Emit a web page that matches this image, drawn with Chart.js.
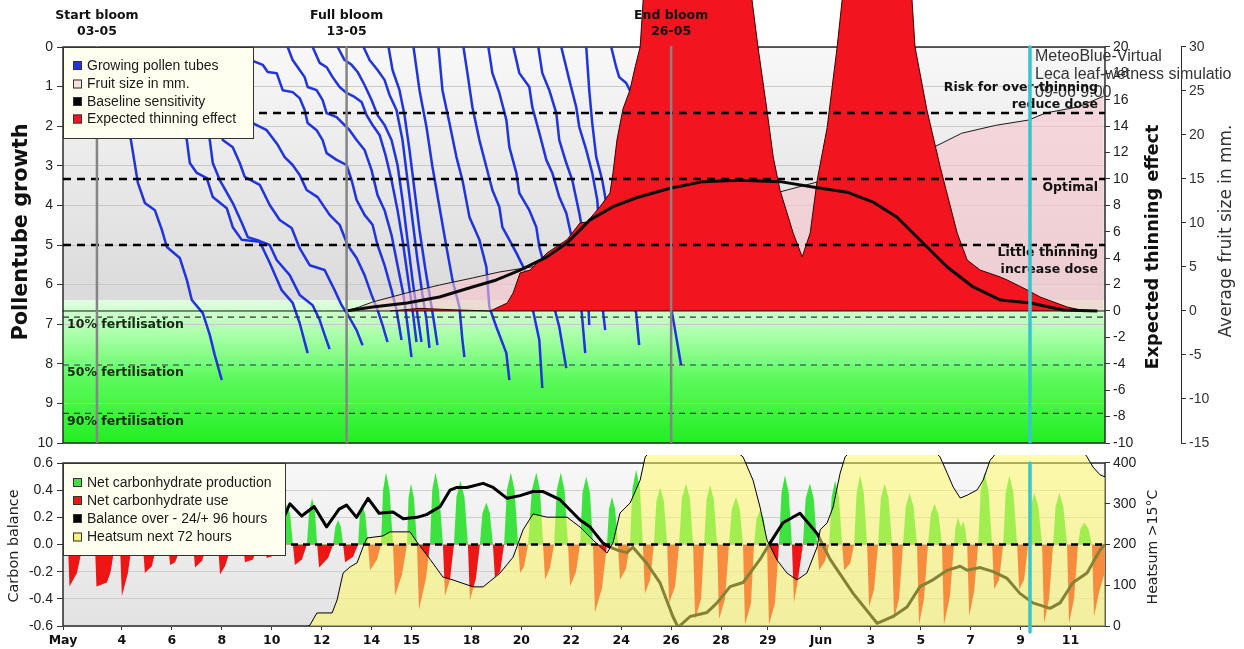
<!DOCTYPE html>
<html>
<head>
<meta charset="utf-8">
<script src="https://cdn.jsdelivr.net/npm/chart.js@4.4.1/dist/chart.umd.min.js"></script>
<style>
  html, body { margin: 0; padding: 0; background: #fff; }
  #top { position: absolute; left: 0; top: 0; }
  #bot { position: absolute; left: 0; top: 455px; }
</style>
</head>
<body>
<canvas id="top" width="1244" height="452"></canvas>
<canvas id="bot" width="1244" height="194"></canvas>
<script>
// ---- data (x = day of May, 32 = 1 June) ----
const xMin = 1.64, xMax = 43.38;
const tickDays   = [1.64, 4, 6, 8, 10, 12, 14, 15.6, 18, 20, 22, 24, 26, 28, 29.87, 32, 34, 36, 38, 40, 42];
const tickLabels = ['May', '4', '6', '8', '10', '12', '14', '15', '18', '20', '22', '24', '26', '28', '29', 'Jun', '3', '5', '7', '9', '11'];

const growthTicks   = [0, 1, 2, 3, 4, 5, 6, 7, 8, 9, 10];
const thinningTicks = [-10, -8, -6, -4, -2, 0, 2, 4, 6, 8, 10, 12, 14, 16, 18, 20];
const fruitTicks    = [-15, -10, -5, 0, 5, 10, 15, 20, 25, 30];
const carbonTicks   = [-0.6, -0.4, -0.2, 0, 0.2, 0.4, 0.6];
const heatTicks     = [0, 100, 200, 300, 400];

const bloomDays  = [3, 13, 26];
const bloomNames = ['Start bloom', 'Full bloom', 'End bloom'];
const bloomDates = ['03-05', '13-05', '26-05'];
const nowDay = 40.375;
const nowText = ['MeteoBlue-Virtual', 'Leca leaf-wetness simulatio', '09-06 9:00'];

const thinningLevels = [15, 10, 5];
const fertilisationLevels = [6.82, 8.03, 9.25];
const fertilisationNames = ['10% fertilisation', '50% fertilisation', '90% fertilisation'];

const topLegend = ['Growing pollen tubes', 'Fruit size in mm.', 'Baseline sensitivity', 'Expected thinning effect'];
const botLegend = ['Net carbonhydrate production', 'Net carbonhydrate use', 'Balance over - 24/+ 96 hours', 'Heatsum next 72 hours'];

// pollen tube growth per tube: [day, growth]
const pollenTubes = [
  [[3.0,0],[3.52,1.09],[3.92,1.59],[4.36,2.35],[4.64,3.43],[4.92,3.94],[5.32,4.12],[5.6,4.62],[5.8,5.05],[6.32,5.33],[6.6,5.88],[6.8,6.39],[7.24,6.72],[7.52,7.27],[7.72,7.78],[8.0,8.41]],
  [[5.12,0],[5.52,0.83],[6.0,1.34],[6.32,1.72],[6.6,2.35],[6.72,2.93],[7.0,3.18],[7.4,3.31],[7.64,3.79],[8.2,4.07],[8.44,4.55],[8.8,4.87],[9.52,4.92],[9.92,5.45],[10.4,6.14],[10.84,6.46],[11.12,6.97],[11.44,7.73]],
  [[6.12,0],[6.52,0.71],[6.92,1.21],[7.32,1.72],[7.52,2.35],[7.64,2.93],[7.92,3.36],[8.44,3.94],[8.8,4.44],[9.04,4.8],[9.52,4.9],[9.92,5.0],[10.2,5.38],[10.72,5.76],[11.12,6.26],[11.64,6.52],[11.92,6.89],[12.12,7.27],[12.32,7.63]],
  [[7.12,0],[7.52,0.83],[7.84,1.59],[8.04,2.35],[8.44,2.53],[8.72,2.93],[8.92,3.28],[9.52,3.48],[9.92,3.99],[10.32,4.37],[10.8,4.57],[11.12,5.08],[11.52,5.51],[12.12,5.63],[12.52,6.14],[12.8,6.52],[13.12,6.84],[13.4,7.15],[13.64,7.53]],
  [[8.24,0],[8.64,0.83],[8.92,1.46],[9.24,1.92],[9.8,2.1],[10.24,2.47],[10.52,2.78],[10.84,2.98],[11.12,3.23],[11.4,3.61],[11.84,3.79],[12.32,4.24],[12.72,4.49],[13.04,5.0],[13.4,5.33],[13.72,5.76],[14.0,6.26],[14.24,6.64],[14.44,7.02],[14.64,7.45]],
  [[8.92,0],[9.24,0.35],[9.64,0.45],[9.84,0.63],[10.2,0.66],[10.44,1.09],[10.84,1.14],[11.12,1.29],[11.32,1.59],[11.44,1.92],[11.8,2.1],[12.04,2.35],[12.2,2.68],[12.6,2.85],[13.0,2.98],[13.2,3.36],[13.4,3.86],[13.72,4.24],[14.04,4.49],[14.24,5.0],[14.52,5.51],[14.8,6.14],[15.0,6.64],[15.2,7.4]],
  [[10.64,0],[10.84,0.33],[11.12,0.58],[11.32,0.76],[11.44,1.01],[11.8,1.09],[12.04,1.34],[12.2,1.67],[12.6,1.77],[12.84,1.92],[13.12,2.1],[13.4,2.35],[13.72,2.6],[14.0,3.11],[14.24,3.74],[14.52,4.12],[14.8,4.75],[15.04,5.51],[15.28,6.26],[15.44,7.02],[15.6,7.83]],
  [[11.64,0],[11.92,0.4],[12.2,0.51],[12.44,0.76],[12.72,1.01],[13.0,1.16],[13.32,1.26],[13.6,1.39],[13.8,1.72],[14.04,1.97],[14.32,2.22],[14.56,2.73],[14.8,3.36],[15.04,4.12],[15.24,4.87],[15.44,5.76],[15.64,6.64],[15.8,7.45]],
  [[12.64,0],[12.92,0.33],[13.2,0.45],[13.44,0.63],[13.72,0.96],[14.0,1.34],[14.24,1.72],[14.52,1.97],[14.8,2.35],[15.04,2.98],[15.24,3.86],[15.44,4.87],[15.64,5.88],[15.84,6.77],[16.0,7.45]],
  [[13.68,0],[13.92,0.33],[14.24,0.58],[14.52,0.83],[14.72,1.21],[15.0,1.59],[15.24,2.35],[15.44,3.36],[15.64,4.37],[15.84,5.38],[16.04,6.26],[16.2,6.89],[16.32,7.6]],
  [[14.68,0],[14.84,0.58],[15.12,1.09],[15.32,1.72],[15.52,2.6],[15.72,3.61],[15.92,4.62],[16.16,5.63],[16.36,6.39],[16.52,7.02],[16.64,7.53]],
  [[15.68,0],[15.92,1.09],[16.2,2.02],[16.44,3.03],[16.72,4.04],[17.0,5.05],[17.24,5.88],[17.52,6.57],[17.64,7.4],[17.72,7.83]],
  [[16.68,0],[16.84,1.09],[17.12,1.92],[17.4,2.78],[17.64,3.36],[17.92,4.29],[18.32,4.87],[18.6,5.56],[18.72,6.57],[19.0,7.07],[19.4,7.73],[19.52,8.41]],
  [[17.68,0],[17.84,0.66],[18.04,1.52],[18.32,2.35],[18.6,3.03],[18.84,3.61],[19.12,4.04],[19.24,4.55],[19.52,4.87],[19.8,5.2],[20.2,5.71],[20.44,6.57],[20.72,7.4],[20.84,8.61]],
  [[18.68,0],[18.84,0.66],[19.12,1.16],[19.4,1.84],[19.52,2.53],[19.8,3.18],[19.92,3.69],[20.32,4.12],[20.6,4.55],[20.72,5.05],[21.0,5.71],[21.24,6.39],[21.52,7.07],[21.8,8.11]],
  [[19.68,0],[19.92,0.66],[20.32,1.01],[20.44,1.52],[20.72,2.17],[21.0,2.85],[21.24,3.18],[21.52,3.79],[21.8,4.19],[22.04,4.87],[22.24,5.71],[22.4,6.57],[22.56,7.73]],
  [[20.68,0],[20.84,0.66],[21.12,1.09],[21.4,1.67],[21.52,2.35],[21.8,2.93],[22.04,3.36],[22.32,4.19],[22.52,4.87],[22.64,5.71],[22.72,7.02]],
  [[21.6,0],[21.92,0.83],[22.2,1.52],[22.32,2.02],[22.6,2.6],[22.84,3.18],[23.04,3.86],[23.16,4.87],[23.24,5.88],[23.28,6.72],[23.36,7.15]],
  [[22.6,0],[22.72,1.09],[22.84,1.92],[23.0,2.78],[23.24,3.36],[23.52,4.37],[23.92,5.38],[24.32,6.14],[24.6,6.72],[24.72,7.53]],
  [[23.6,0],[23.8,0.51],[23.92,0.76],[24.2,0.91],[24.4,1.16],[24.92,2.6],[25.32,4.37],[25.72,5.88],[26.04,6.72],[26.4,8.03]]
];

// fruit size in mm
const fruitSize = [[12.98,0],[13.5,0.45],[14.04,1.02],[15.4,2.05],[16.72,2.95],[18.04,3.75],[19.12,4.43],[20.4,5.0],[23.12,6.9],[27.12,10.9],[30.32,13.5],[31.64,14.5],[33.92,16.25],[36.44,18.5],[37.64,20.2],[39.0,21.1],[40.32,21.7],[41.0,22.5],[42.32,23.2],[43.32,24.4]];

// baseline sensitivity
const baseline = [[12.98,0],[14.04,0.3],[15.42,0.6],[16.72,1.06],[18.04,1.82],[19.0,2.35],[19.95,3.1],[21.03,4.1],[21.83,5.15],[22.75,6.9],[23.67,7.9],[24.64,8.6],[25.96,9.3],[27.28,9.8],[28.76,9.9],[30.36,9.8],[31.68,9.4],[33.05,9.0],[34.09,8.25],[35.05,7.1],[36.09,5.15],[37.06,3.33],[38.1,1.82],[39.2,0.83],[40.4,0.6],[41.7,0.08],[43.07,0]];

// expected thinning effect
const thinning = [[14.74,0],[15.94,0.2],[17.14,0.1],[18.75,0],[19.43,0.6],[19.67,1.36],[19.95,2.88],[20.35,3.1],[21.03,4.4],[21.83,5.4],[22.35,6.67],[22.63,6.74],[23.15,7.9],[23.55,8.94],[23.67,10.45],[23.83,12.95],[24.07,15.3],[24.35,16.74],[24.56,18.5],[24.76,20.0],[24.88,23.56],[25.36,28],[27.16,31],[28.96,27],[29.24,23.56],[29.48,20.0],[29.84,15.2],[30.09,11.67],[30.36,9.17],[30.89,5.9],[31.25,4.1],[31.57,5.9],[31.85,9.9],[32.25,13.9],[32.65,20.0],[32.85,23.56],[33.37,28],[34.37,30],[35.37,27.3],[35.65,23.56],[35.77,20.0],[36.25,15.2],[36.78,10.9],[37.46,5.9],[37.86,3.86],[38.38,3.1],[39.18,2.58],[39.46,2.35],[40.26,1.6],[40.78,1.06],[41.87,0.3],[42.4,0.08],[43.08,0]];

// net carbonhydrate balance
const carbon = [
  [1.64,0],
  [1.84,0],[1.9,-0.31],[2.2,-0.21],[2.44,0],[2.68,0.2],
  [2.92,0],[2.98,-0.31],[3.4,-0.28],[3.55,-0.2],[3.72,0],[3.82,0.15],
  [3.92,0],[4.0,-0.38],[4.24,-0.21],[4.4,0],[4.62,0.2],
  [4.84,0],[4.92,-0.21],[5.2,-0.16],[5.4,0],[5.62,0.2],
  [5.85,0],[5.93,-0.15],[6.13,-0.13],[6.41,0],[6.63,0.25],
  [6.85,0],[6.93,-0.17],[7.21,-0.12],[7.41,0],[7.63,0.2],
  [7.85,0],[7.93,-0.22],[8.13,-0.16],[8.41,0],[8.63,0.25],
  [8.85,0],[8.93,-0.13],[9.25,-0.11],[9.45,0],[9.6,0.32],
  [9.73,0],[9.8,-0.1],[10.13,-0.08],[10.41,0],[10.5,0.22],[10.61,0.3],[10.74,0.22],
  [10.85,0],[10.93,-0.15],[11.21,-0.11],[11.41,0],[11.5,0.25],[11.62,0.34],[11.73,0.25],
  [11.82,0],[11.9,-0.17],[12.26,-0.1],[12.46,0],[12.55,0.13],[12.66,0.18],[12.77,0.13],
  [12.86,0],[12.94,-0.13],[13.26,-0.09],[13.46,0],[13.53,0.22],[13.62,0.3],[13.75,0.22],
  [13.86,0],[13.94,-0.19],[14.22,-0.11],[14.38,0],[14.46,0.4],[14.58,0.53],[14.72,0.4],
  [14.86,0],[14.94,-0.38],[15.22,-0.22],[15.42,0],[15.48,0.34],[15.58,0.45],[15.7,0.34],
  [15.82,0],[15.9,-0.48],[16.18,-0.25],[16.34,0],[16.43,0.4],[16.56,0.53],[16.7,0.4],
  [16.86,0],[16.94,-0.38],[17.14,-0.26],[17.3,0],[17.4,0.35],[17.56,0.47],[17.72,0.35],
  [17.86,0],[17.94,-0.41],[18.18,-0.25],[18.34,0],[18.44,0.23],[18.6,0.31],[18.74,0.23],
  [18.86,0],[18.94,-0.24],[19.15,-0.2],[19.31,0],[19.42,0.4],[19.58,0.53],[19.73,0.4],
  [19.87,0],[19.95,-0.21],[20.11,-0.16],[20.27,0],[20.42,0.4],[20.6,0.53],[20.75,0.4],
  [20.87,0],[20.95,-0.26],[21.15,-0.17],[21.31,0],[21.42,0.4],[21.58,0.53],[21.73,0.4],
  [21.87,0],[21.95,-0.31],[22.19,-0.2],[22.35,0],[22.45,0.38],[22.6,0.5],[22.75,0.38],
  [22.87,0],[22.95,-0.5],[23.23,-0.32],[23.43,0],[23.51,0.26],[23.63,0.35],[23.76,0.26],
  [23.87,0],[23.95,-0.26],[24.19,-0.18],[24.35,0],[24.45,0.41],[24.6,0.55],[24.75,0.41],
  [24.87,0],[24.95,-0.36],[25.16,-0.26],[25.31,0],[25.41,0.32],[25.56,0.42],[25.71,0.32],
  [25.84,0],[25.92,-0.43],[26.16,-0.31],[26.32,0],[26.43,0.34],[26.6,0.45],[26.75,0.34],
  [26.88,0],[26.96,-0.55],[27.2,-0.4],[27.32,0],[27.42,0.33],[27.56,0.44],[27.71,0.33],
  [27.84,0],[27.92,-0.55],[28.16,-0.4],[28.32,0],[28.43,0.26],[28.6,0.35],[28.75,0.26],
  [28.88,0],[28.96,-0.59],[29.2,-0.43],[29.32,0],[29.42,0.19],[29.56,0.25],[29.71,0.19],
  [29.84,0],[29.92,-0.59],[30.16,-0.43],[30.32,0],[30.42,0.38],[30.56,0.51],[30.71,0.38],
  [30.84,0],[30.92,-0.43],[31.08,-0.26],[31.28,0],[31.39,0.34],[31.56,0.45],[31.71,0.34],
  [31.85,0],[31.93,-0.19],[32.17,-0.12],[32.33,0],[32.43,0.35],[32.57,0.47],[32.72,0.35],
  [32.85,0],[32.93,-0.19],[33.17,-0.14],[33.33,0],[33.43,0.38],[33.57,0.51],[33.72,0.38],
  [33.85,0],[33.93,-0.46],[34.13,-0.33],[34.29,0],[34.4,0.34],[34.55,0.45],[34.71,0.34],
  [34.85,0],[34.93,-0.55],[35.13,-0.4],[35.29,0],[35.4,0.28],[35.55,0.38],[35.71,0.28],
  [35.85,0],[35.93,-0.59],[36.13,-0.4],[36.29,0],[36.4,0.22],[36.55,0.3],[36.71,0.22],
  [36.85,0],[36.93,-0.59],[37.17,-0.38],[37.33,0],[37.4,0.14],[37.5,0.2],[37.6,0.13],[37.7,0.17],[37.78,0.12],
  [37.86,0],[37.94,-0.53],[38.14,-0.34],[38.3,0],[38.4,0.4],[38.55,0.53],[38.71,0.4],
  [38.86,0],[38.94,-0.33],[39.14,-0.26],[39.3,0],[39.4,0.38],[39.55,0.51],[39.71,0.38],
  [39.86,0],[39.94,-0.33],[40.14,-0.26],[40.3,0],[40.4,0.28],[40.55,0.38],[40.71,0.28],
  [40.86,0],[40.94,-0.58],[41.14,-0.4],[41.3,0],[41.4,0.28],[41.55,0.38],[41.71,0.28],
  [41.86,0],[41.94,-0.58],[42.14,-0.4],[42.3,0],[42.4,0.12],[42.55,0.16],[42.71,0.12],
  [42.86,0],[42.94,-0.53],[43.14,-0.35],[43.38,-0.2]
];

// balance over -24/+96 hours
const balance = [[10.3,0.12],[10.73,0.3],[11.2,0.21],[11.7,0.28],[12.2,0.13],[12.7,0.26],[13.0,0.29],[13.4,0.2],[13.86,0.34],[14.3,0.23],[14.86,0.24],[15.27,0.19],[15.82,0.2],[16.2,0.22],[16.75,0.28],[17.14,0.4],[17.42,0.42],[17.82,0.42],[18.47,0.45],[18.87,0.42],[19.43,0.34],[19.95,0.36],[20.47,0.39],[20.87,0.39],[21.55,0.33],[22.35,0.18],[22.75,0.13],[23.27,0.01],[23.55,-0.02],[23.83,-0.04],[24.23,-0.06],[24.47,-0.02],[25.03,-0.14],[25.55,-0.28],[26.07,-0.53],[26.28,-0.61],[26.76,-0.53],[27.44,-0.5],[27.84,-0.43],[28.36,-0.31],[28.88,-0.28],[29.56,-0.11],[29.96,0.01],[30.48,0.16],[31.16,0.23],[31.85,0.08],[32.37,-0.11],[33.29,-0.36],[34.25,-0.58],[34.89,-0.53],[35.45,-0.46],[35.97,-0.31],[36.49,-0.26],[37.06,-0.19],[37.58,-0.16],[37.86,-0.19],[38.38,-0.17],[38.9,-0.2],[39.46,-0.25],[39.97,-0.36],[40.49,-0.43],[41.18,-0.47],[41.58,-0.43],[42.1,-0.28],[42.66,-0.21],[43.18,-0.04],[43.38,0]];

// heatsum > 15C, next 72 hours
const heatsum = [[11.45,0],[11.53,2],[11.81,32],[12.42,32],[12.62,64],[12.86,130],[13.14,145],[13.42,155],[13.66,194],[13.82,216],[14.46,221],[14.74,231],[15.54,231],[15.82,206],[16.34,164],[16.86,120],[17.26,113],[18.07,96],[18.47,96],[19.15,130],[19.67,169],[20.07,236],[20.47,275],[21.03,267],[21.83,267],[22.35,243],[22.87,211],[23.43,179],[23.67,204],[23.95,277],[24.36,302],[24.76,358],[24.96,415],[25.36,440],[28.36,440],[28.88,415],[29.28,358],[29.56,292],[29.84,211],[30.24,162],[30.64,130],[31.04,113],[31.44,130],[31.85,194],[31.97,236],[32.25,253],[32.49,292],[32.77,375],[32.97,415],[33.37,440],[36.37,440],[36.77,415],[37.06,375],[37.3,341],[37.58,314],[37.86,321],[38.26,334],[38.5,358],[38.78,407],[38.9,415],[39.18,440],[42.38,440],[42.66,415],[42.9,390],[43.18,371],[43.38,366]];

// ---- styling ----
const SANS = '"Liberation Sans", Arial, sans-serif';
const WIDE = '"DejaVu Sans", Verdana, sans-serif';
const BLUE = '#1f33e0', RED = '#f2141e', CYAN = '#35c6cf';

function lineDs(data, axis, color, width, extra) {
  return Object.assign({
    data, yAxisID: axis, borderColor: color, borderWidth: width,
    pointRadius: 0, fill: false, tension: 0, borderJoinStyle: 'round'
  }, extra || {});
}

function fixAxis(width) {
  return s => { s.width = width; s.paddingTop = 0; s.paddingBottom = 0; };
}

function setTicks(values) {
  return s => { s.ticks = values.map(v => ({ value: v })); };
}

const tickFont = { family: SANS, size: 14 };

function legendBox(ctx, x, y, w, h, labels, colors, rows) {
  ctx.save();
  ctx.fillStyle = '#fffff0';
  ctx.fillRect(x, y, w, h);
  ctx.strokeStyle = '#333';
  ctx.lineWidth = 1;
  ctx.strokeRect(x + 0.5, y + 0.5, w, h);
  ctx.font = '14px ' + SANS;
  ctx.textBaseline = 'middle';
  labels.forEach((label, i) => {
    const cy = rows[i];
    ctx.fillStyle = colors[i];
    ctx.fillRect(x + 10, cy - 4.5, 9, 9);
    ctx.strokeStyle = '#333';
    ctx.strokeRect(x + 10.5, cy - 4, 8, 8);
    ctx.fillStyle = '#1a1a1a';
    ctx.fillText(label, x + 24, cy + 0.5);
  });
  ctx.restore();
}

function vTitle(ctx, text, cx, cy, font, len, color) {
  ctx.save();
  ctx.font = font;
  const w = ctx.measureText(text).width;
  ctx.translate(cx, cy);
  ctx.rotate(-Math.PI / 2);
  ctx.scale(len / w, 1);
  ctx.fillStyle = color;
  ctx.textAlign = 'center';
  ctx.textBaseline = 'middle';
  ctx.fillText(text, 0, 0);
  ctx.restore();
}

// ---- top chart ----
const topSets = [];
pollenTubes.forEach(t => topSets.push(lineDs(t, 'yL', BLUE, 2.5, { order: 60 })));
topSets.push(lineDs(fruitSize, 'yF', '#1a1a1a', 1, { fill: 'origin', backgroundColor: 'rgba(249,196,204,0.6)', order: 50 }));
topSets.push(lineDs(thinning, 'yT', '#3a0000', 1, { fill: 'origin', backgroundColor: RED, order: 40 }));
topSets.push(lineDs(baseline, 'yT', '#0a0a0a', 3, { order: 30 }));
topSets.push(lineDs([[xMin, 0], [xMax, 0]], 'yT', '#111', 1, { order: 25 }));
thinningLevels.forEach(v => topSets.push(lineDs([[xMin, v], [xMax, v]], 'yT', '#000', 2.5, { borderDash: [8, 6], order: 20 })));
fertilisationLevels.forEach(v => topSets.push(lineDs([[xMin, v], [xMax, v]], 'yL', '#333', 1.2, { borderDash: [6, 5], order: 20 })));
bloomDays.forEach(d => topSets.push(lineDs([[d, 0], [d, 10]], 'yL', '#858585', 2.5, { order: 10 })));
topSets.push(lineDs([[nowDay, 0], [nowDay, 10]], 'yL', CYAN, 3.5, { order: 0 }));
const cyanTop = topSets.length - 1;

const topDecor = {
  id: 'topDecor',
  beforeDraw(chart) {
    const { ctx, chartArea: a, scales: { yL } } = chart;
    const t = yL.getPixelForValue(0), m = yL.getPixelForValue(6.4), b = yL.getPixelForValue(10);
    ctx.save();
    let g = ctx.createLinearGradient(0, t, 0, m);
    g.addColorStop(0, '#f8f8f8');
    g.addColorStop(1, '#dadada');
    ctx.fillStyle = g;
    ctx.fillRect(a.left, t, a.right - a.left, m - t);
    g = ctx.createLinearGradient(0, m, 0, b);
    g.addColorStop(0, '#e0ffe0');
    g.addColorStop(0.25, '#a8ffa8');
    g.addColorStop(0.55, '#5cfa5c');
    g.addColorStop(1, '#22ee22');
    ctx.fillStyle = g;
    ctx.fillRect(a.left, m, a.right - a.left, b - m);
    ctx.restore();
  },
  beforeDatasetsDraw(chart) {
    const { ctx, chartArea: a, scales: { yL, yF } } = chart;
    const t = yL.getPixelForValue(0), b = yL.getPixelForValue(10);
    ctx.save();
    ctx.strokeStyle = '#2b2b2b';
    ctx.lineWidth = 1.5;
    ctx.strokeRect(a.left, t, a.right - a.left, b - t);
    ctx.lineWidth = 1;
    ctx.beginPath();
    ctx.moveTo(yF.left + 0.5, t);
    ctx.lineTo(yF.left + 0.5, b);
    ctx.stroke();
    ctx.restore();
  },
  beforeDatasetDraw(chart, args) {
    if (args.index !== cyanTop) return;
    const { ctx, chartArea: a, scales: { x, yL, yT } } = chart;
    ctx.save();
    // simulation stamp
    ctx.font = '16px ' + SANS;
    ctx.fillStyle = '#333';
    ctx.textBaseline = 'middle';
    ctx.textAlign = 'left';
    const nx = x.getPixelForValue(nowDay) + 5;
    nowText.forEach((s, i) => ctx.fillText(s, nx, 57 + i * 18));
    // threshold labels
    ctx.font = 'bold 12.5px ' + WIDE;
    ctx.fillStyle = '#111';
    ctx.textAlign = 'right';
    const rx = a.right - 7;
    ctx.fillText('Risk for over-thinning', rx, yT.getPixelForValue(thinningLevels[0]) - 25);
    ctx.fillText('reduce dose', rx, yT.getPixelForValue(thinningLevels[0]) - 8);
    ctx.fillText('Optimal', rx, yT.getPixelForValue(thinningLevels[1]) + 9);
    ctx.fillText('Little thinning', rx, yT.getPixelForValue(thinningLevels[2]) + 8);
    ctx.fillText('increase dose', rx, yT.getPixelForValue(thinningLevels[2]) + 25);
    // fertilisation labels
    ctx.textAlign = 'left';
    ctx.fillStyle = '#122812';
    fertilisationLevels.forEach((v, i) => ctx.fillText(fertilisationNames[i], a.left + 4, yL.getPixelForValue(v) + 8));
    ctx.restore();
  },
  afterDraw(chart) {
    const { ctx, scales: { x } } = chart;
    legendBox(ctx, 63, 47, 190, 91, topLegend, [BLUE, '#f7dede', '#000', RED], [65.5, 84, 101.5, 119]);
    ctx.save();
    ctx.font = 'bold 12.5px ' + WIDE;
    ctx.fillStyle = '#111';
    ctx.textAlign = 'center';
    ctx.textBaseline = 'middle';
    bloomDays.forEach((d, i) => {
      const px = x.getPixelForValue(d);
      ctx.fillText(bloomNames[i], px, 16);
      ctx.fillText(bloomDates[i], px, 32);
    });
    ctx.restore();
    vTitle(ctx, 'Pollentube growth', 22, 232, 'bold 21px ' + WIDE, 217, '#111');
    vTitle(ctx, 'Expected thinning effect', 1153, 247, 'bold 17.5px ' + WIDE, 245, '#111');
    vTitle(ctx, 'Average fruit size in mm.', 1227, 231, '17px ' + WIDE, 213, '#333');
  }
};

new Chart(document.getElementById('top'), {
  type: 'line',
  data: { datasets: topSets },
  options: {
    responsive: false,
    animation: false,
    events: [],
    layout: { padding: { left: 0, right: 0, top: 0, bottom: 9 } },
    plugins: { legend: { display: false }, tooltip: { enabled: false } },
    scales: {
      x: { type: 'linear', min: xMin, max: xMax, display: false },
      yL: {
        type: 'linear', position: 'left', reverse: true, min: -1.187, max: 10,
        afterBuildTicks: setTicks(growthTicks), afterFit: fixAxis(63),
        grid: { color: '#c9c9c9', lineWidth: 1, tickColor: '#333', tickLength: 6 },
        border: { display: false },
        ticks: { color: '#222', font: tickFont, padding: 4 }
      },
      yT: {
        type: 'linear', position: 'right', min: -10, max: 23.56,
        afterBuildTicks: setTicks(thinningTicks), afterFit: fixAxis(76),
        grid: { drawOnChartArea: false, tickColor: '#333', tickLength: 5 },
        border: { display: false },
        ticks: { color: '#222', font: tickFont, padding: 3 }
      },
      yF: {
        type: 'linear', position: 'right', min: -15, max: 35.34,
        afterBuildTicks: setTicks(fruitTicks), afterFit: fixAxis(63),
        grid: { drawOnChartArea: false, tickColor: '#333', tickLength: 5 },
        border: { display: false },
        ticks: { color: '#333', font: tickFont, padding: 3 }
      }
    }
  },
  plugins: [topDecor]
});

// ---- bottom chart ----
const botSets = [
  lineDs(carbon, 'yC', 'rgba(0,0,0,0)', 0, { fill: { target: 'origin', above: '#3ee23e', below: '#ee1515' }, order: 40 }),
  lineDs(balance, 'yC', '#000', 3, { order: 30 }),
  lineDs(heatsum, 'yH', '#000', 1, { fill: 'origin', backgroundColor: 'rgba(255,250,100,0.52)', order: 20 }),
  lineDs([[xMin, 0], [xMax, 0]], 'yC', '#000', 2.5, { borderDash: [7, 5], order: 10 }),
  lineDs([[nowDay, 0.6], [nowDay, -0.645]], 'yC', CYAN, 3.5, { order: 0, clip: false })
];

const botDecor = {
  id: 'botDecor',
  beforeDraw(chart) {
    const { ctx, chartArea: a, scales: { yC } } = chart;
    const t = yC.getPixelForValue(0.6), b = yC.getPixelForValue(-0.6);
    ctx.save();
    const g = ctx.createLinearGradient(0, t, 0, b);
    g.addColorStop(0, '#f8f8f8');
    g.addColorStop(1, '#e2e2e2');
    ctx.fillStyle = g;
    ctx.fillRect(a.left, t, a.right - a.left, b - t);
    ctx.restore();
  },
  beforeDatasetsDraw(chart) {
    const { ctx, chartArea: a, scales: { yC } } = chart;
    const t = yC.getPixelForValue(0.6), b = yC.getPixelForValue(-0.6);
    ctx.save();
    ctx.strokeStyle = '#2b2b2b';
    ctx.lineWidth = 1.5;
    ctx.strokeRect(a.left, t, a.right - a.left, b - t);
    ctx.restore();
  },
  afterDraw(chart) {
    const { ctx } = chart;
    legendBox(ctx, 63, 8, 222, 92, botLegend, ['#46dc46', '#ee1515', '#000', '#f7f07a'], [27.5, 45.5, 63.5, 82]);
    vTitle(ctx, 'Carbon balance', 14, 91, '14px ' + WIDE, 113, '#222');
    vTitle(ctx, 'Heatsum >15°C', 1153, 92, '14.2px ' + WIDE, 115, '#222');
  }
};

new Chart(document.getElementById('bot'), {
  type: 'line',
  data: { datasets: botSets },
  options: {
    responsive: false,
    animation: false,
    events: [],
    layout: { padding: 0 },
    plugins: { legend: { display: false }, tooltip: { enabled: false } },
    scales: {
      x: {
        type: 'linear', position: 'bottom', min: xMin, max: xMax,
        afterBuildTicks: setTicks(tickDays),
        afterFit: s => { s.height = 23; },
        grid: { drawOnChartArea: false, tickColor: '#333', tickLength: 4 },
        border: { display: false },
        ticks: {
          autoSkip: false, maxRotation: 0, padding: 3, color: '#111',
          font: { family: WIDE, size: 12.5, weight: 'bold' },
          callback: (v, i) => tickLabels[i]
        }
      },
      yC: {
        type: 'linear', position: 'left', min: -0.6, max: 0.6589,
        afterBuildTicks: setTicks(carbonTicks), afterFit: fixAxis(63),
        grid: { color: '#cfcfcf', tickColor: '#333', tickLength: 6 },
        border: { display: false },
        ticks: { color: '#222', font: tickFont, padding: 4, callback: v => v.toFixed(1) }
      },
      yH: {
        type: 'linear', position: 'right', min: 0, max: 419.63,
        afterBuildTicks: setTicks(heatTicks), afterFit: fixAxis(139),
        grid: { drawOnChartArea: false, tickColor: '#333', tickLength: 5 },
        border: { display: false },
        ticks: { color: '#222', font: tickFont, padding: 3 }
      }
    }
  },
  plugins: [botDecor]
});
</script>
</body>
</html>
